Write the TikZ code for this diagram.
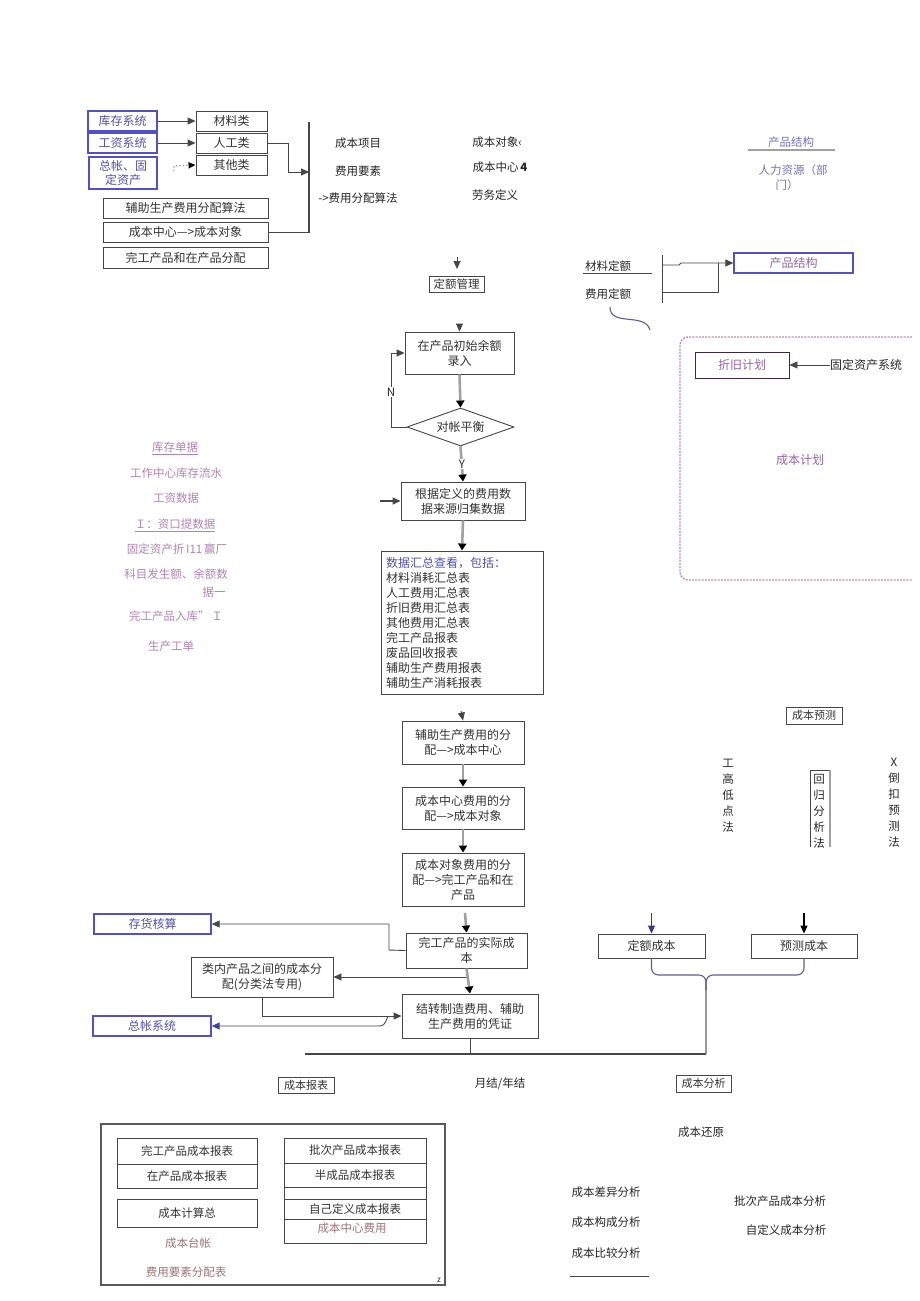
\documentclass[tikz,border=0pt]{standalone}
\usepackage{fontspec}
\setmainfont{Noto Sans CJK SC}
\usetikzlibrary{arrows.meta,shapes.geometric,calc}
\newcommand\fsz[2]{\fontsize{#1}{#2}\selectfont}
\definecolor{bluebd}{RGB}{80,80,200}
\definecolor{bluetx}{RGB}{80,80,170}
\definecolor{purptx}{RGB}{150,100,170}
\definecolor{pinktx}{RGB}{180,130,180}
\definecolor{browntx}{RGB}{160,115,115}
\definecolor{linegray}{RGB}{160,160,160}
\definecolor{boxgray}{RGB}{70,70,70}
\definecolor{tcol}{RGB}{100,90,150}
\definecolor{dashcol}{RGB}{190,140,170}
\tikzset{
  box/.style={draw=boxgray, line width=0.9, inner sep=1, align=center, font=\fsz{12}{15}, text=black!80},
  bbox/.style={box, draw=bluebd, line width=1.3, text=bluetx},
  lbl/.style={inner sep=0, font=\fsz{11.5}{14}, text=black!85},
  plbl/.style={lbl, text=pinktx},
  arr/.style={draw=boxgray, line width=0.9, -{Triangle[length=8,width=7]}},
  garr/.style={draw=linegray, line width=2.6, -{Triangle[length=7,width=8,color=black]}},
}
\begin{document}
\begin{tikzpicture}[x=1pt,y=-1pt]
\useasboundingbox (0,0) rectangle (920,1301);
\fill[white] (0,0) rectangle (920,1301);

% ---------- top-left block ----------
\node[bbox, minimum width=69, minimum height=20] (n1) at (122.5,121) {库存系统};
\node[bbox, minimum width=69, minimum height=20] (n2) at (122.5,143) {工资系统};
\node[bbox, minimum width=68, minimum height=32, font=\fsz{12}{14}] (n3) at (123,173) {总帐、固\\定资产};
\node[box, minimum width=71, minimum height=20] (m1) at (231.5,121) {材料类};
\node[box, minimum width=71, minimum height=20] (m2) at (231.5,143) {人工类};
\node[box, minimum width=71, minimum height=20] (m3) at (231.5,165) {其他类};
\node[box, minimum width=165, minimum height=20] (a1) at (185.5,208) {辅助生产费用分配算法};
\node[box, minimum width=165, minimum height=20] (a2) at (185.5,232) {成本中心—>成本对象};
\node[box, minimum width=165, minimum height=21] (a3) at (185.5,257.5) {完工产品和在产品分配};
\draw[arr] (n1.east) -- (m1.west);
\draw[arr] (n2.east) -- (m2.west);
\coordinate (c3) at (174,171);
\draw[draw=linegray, dotted, line width=1.4, -{Triangle[length=7,width=6,color=black]}] (c3) -- (174,166) -- (m3.west);
\coordinate (bt) at (309,122);
\coordinate (bb) at (309,233);
\coordinate (bm) at (309,172);
\draw[boxgray, line width=1.2] (bt) -- (bb);
\draw[arr] (m2.east) -- (288,143) |- (bm);
\draw[boxgray, line width=0.9] (a2.east) -- (309,232);

\node[lbl] (t1) at (358,143) {成本项目};
\node[lbl] (t2) at (358,171) {费用要素};
\node[lbl] (t3) at (358,198) {->费用分配算法};
\node[lbl] (t4) at (497,142) {成本对象‹};
\node[lbl] (t5) at (500,167) {成本中心\,\textbf{4}};
\node[lbl] (t6) at (495,195) {劳务定义};
\node[lbl, text=bluetx!80] (t7) at (791,142) {产品结构};
\draw[linegray, line width=1.2] (748,150) -- (835,150);
\node[lbl, text=bluetx!80] (t8) at (793,170) {人力资源（部};
\node[lbl, text=bluetx!80] (t9) at (787,185) {门）};

% ---------- 定额管理 ----------
\coordinate (dm1) at (457,257);
\coordinate (dm2) at (457,269);
\draw[arr] (dm1) -- (dm2);
\node[box, minimum width=55, minimum height=16, font=\fsz{11.5}{14}, line width=0.8] (dg) at (456.5,284) {定额管理};

\node[lbl] (q1) at (608,266) {材料定额};
\draw[boxgray, line width=0.9] (583,273) -- (652,273);
\node[lbl] (q2) at (608,294) {费用定额};
\coordinate (qt) at (662,255);
\coordinate (qb) at (662,303);
\draw[boxgray, line width=1] (qt) -- (qb);
\node[bbox, minimum width=119, minimum height=20, text=purptx] (pj) at (793.5,263) {产品结构};
\draw[arr] (662,265) -- (679,265) -- (681,263) -- (pj.west);
\draw[boxgray, line width=0.9] (662,292) -| (718,263);
\draw[tcol, line width=1.1] (610,307) .. controls (610,327) and (645,312) .. (650,330);

% ---------- cost plan ----------
\draw[dashcol, line width=1.3, dash pattern=on 2pt off 1.2pt, rounded corners=8] (912,337) -- (680,337) -- (680,580) -- (912,580);
\node[box, draw=black!60!purptx, minimum width=94, minimum height=26, text=purptx] (zj) at (742,365) {折旧计划};
\node[lbl, anchor=west, font=\fsz{12}{14}] (gd) at (830,365) {固定资产系统};
\draw[arr] (gd.west) -- (zj.east);
\node[lbl, text=purptx, font=\fsz{12}{14}] (jh) at (800,460) {成本计划};

% ---------- left text column ----------
\node[plbl] (l1) at (175,447) {库存单据~};
\draw[pinktx, line width=0.7] ($(l1.south west)+(0,2)$) -- ($(l1.south east)+(0,2)$);
\node[plbl] (l2) at (176,473) {工作中心库存流水};
\node[plbl] (l3) at (176,498) {工资数据};
\node[plbl] (l4) at (175,524) {Ｉ：资口提数据};
\draw[pinktx, line width=0.7] ($(l4.south west)+(0,2)$) -- ($(l4.south east)+(0,2)$);
\node[plbl] (l5) at (177,549) {固定资产折\,I11\,赢厂};
\node[plbl] (l6) at (176,574) {科目发生额、余额数};
\node[plbl] (l7) at (214,592) {据一};
\node[plbl] (l8) at (176,616) {完工产品入库”\,Ｉ};
\node[plbl] (l9) at (171,646) {生产工单};

% ---------- flowchart ----------
\node[box, minimum width=109, minimum height=42] (f1) at (459.5,353) {在产品初始余额\\录入};
\coordinate (f0) at (459.5,325);
\draw[arr] (f0) -- (f1.north);
\node[diamond, draw=boxgray, line width=0.9, minimum width=107, minimum height=38, inner sep=0, aspect=2.8, font=\fsz{12}{14}, text=black!80] (d1) at (460.5,427) {对帐平衡};
\draw[garr] (f1.south) -- (d1.north);
\draw[arr] (d1.west) -- (391,427) |- (f1.west);
\node[lbl, fill=white, inner sep=1] at (391,392) {N};
\node[box, minimum width=124, minimum height=38] (f2) at (463,501) {根据定义的费用数\\据来源归集数据};
\draw[garr] (d1.south) -- (f2.north);
\node[lbl, fill=white, inner sep=1] at (462,464) {Y};
\coordinate (fin) at (380,501);
\draw[arr, line width=1.4] (fin) -- (f2.west);
\node[box, minimum width=162, minimum height=143, text width=152, align=left, inner sep=4, font=\fsz{12}{15}] (f3) at (462,622.5) {\textcolor{bluetx}{数据汇总查看，包括：}\\材料消耗汇总表\\人工费用汇总表\\折旧费用汇总表\\其他费用汇总表\\完工产品报表\\废品回收报表\\辅助生产费用报表\\辅助生产消耗报表};
\draw[garr] (f2.south) -- (f3.north);
\node[box, minimum width=122, minimum height=43] (f4) at (463,742.5) {辅助生产费用的分\\配—>成本中心};
\coordinate (f34) at (461,711);
\draw[arr] (f34) -- (f4.north);
\node[box, minimum width=122, minimum height=42] (f5) at (463,808) {成本中心费用的分\\配—>成本对象};
\draw[garr] (f4.south) -- (f5.north);
\node[box, minimum width=122, minimum height=53] (f6) at (463,879.5) {成本对象费用的分\\配—>完工产品和在\\产品};
\draw[garr] (f5.south) -- (f6.north);
\node[box, minimum width=121, minimum height=35] (f7) at (466.5,950.5) {完工产品的实际成\\本};
\coordinate (f67) at (465,913);
\draw[garr] (f67) -- (f7.north);
\node[bbox, minimum width=117, minimum height=20] (s1) at (152.5,924) {存货核算};
\draw[arr] (f7.west) -- (389,950) |- (s1.east);
\node[box, minimum width=142, minimum height=40] (f8) at (262,977) {类内产品之间的成本分\\配(分类法专用)};
\coordinate (j1) at (467,977);
\draw[arr] (j1) -- (f8.east);
\node[box, minimum width=136, minimum height=44] (f9) at (470,1016) {结转制造费用、辅助\\生产费用的凭证};
\draw[garr] (f7.south) -- (f9.north);
\draw[arr] (f8.south) |- (f9.west);
\node[bbox, minimum width=118, minimum height=20] (s2) at (152,1026) {总帐系统};
\coordinate (k1) at (388,1016);
\draw[draw=boxgray, line width=0.9, -{Triangle[length=8,width=7,color=bluebd!80!black]}] (k1) .. controls (384,1026) .. (376,1026) -- (s2.east);
\coordinate (hl) at (305,1054);
\coordinate (hr) at (706,1054);
\draw[boxgray, line width=1.2] (hl) -- (hr);
\draw[boxgray, line width=1] (f9.south) -- (470,1054);

% ---------- forecast ----------
\node[box, minimum width=56, minimum height=17, font=\fsz{11}{13}] (p0) at (814,715.5) {成本预测};
\node[lbl, align=center, font=\fsz{11.5}{16}] (v1) at (728,795.5) {工\\高\\低\\点\\法};
\node[lbl, align=center, font=\fsz{11.5}{16}] (v2) at (819,811) {回\\归\\分\\析\\法};
\draw[boxgray, line width=0.9] (810,847) -- (810,770) -- (830,770);
\draw[linegray, line width=1.8] (830,770) -- (830,847);
\node[lbl, align=center, font=\fsz{11.5}{16}] (v3) at (894,803) {\textit{X}\\倒\\扣\\预\\测\\法};

\node[box, minimum width=107, minimum height=24] (e1) at (651.5,946) {定额成本};
\node[box, minimum width=106, minimum height=24] (e2) at (804,946) {预测成本};
\coordinate (e1t) at (651.5,913);
\coordinate (e2t) at (804,913);
\draw[draw=bluebd!70!black, line width=1, -{Triangle[length=8,width=7]}] (e1t) -- (e1.north);
\draw[arr, line width=1.3, draw=black] (e2t) -- (e2.north);
\draw[tcol, line width=1.1, rounded corners=7] (e1.south) -- (651.5,975) -- (706,975) -- (hr);
\draw[tcol, line width=1.1, rounded corners=7] (e2.south) -- (804,975) -- (706,975) -- (706,990);

% ---------- bottom ----------
\node[box, minimum width=56, minimum height=16, font=\fsz{11}{13}] (r1) at (306,1085) {成本报表};
\node[lbl] (yj) at (500,1084) {月结/年结};
\node[box, minimum width=55, minimum height=17, font=\fsz{11}{13}] (r2) at (703.5,1083.5) {成本分析};
\node[lbl] (hy) at (701,1132) {成本还原};

\node[draw=black!65, line width=1.1, minimum width=344, minimum height=161, inner sep=0] (big) at (273,1204.5) {};
\node[lbl, font=\fsz{8}{9}] (zz) at (439,1280) {z};
\node[box, minimum width=140, minimum height=26, font=\fsz{11.5}{14}] (b1) at (187,1151) {完工产品成本报表};
\node[box, minimum width=140, minimum height=24, font=\fsz{11.5}{14}] (b2) at (187,1176) {在产品成本报表};
\node[box, minimum width=140, minimum height=28, font=\fsz{11.5}{14}] (b3) at (187,1213) {成本计算总};
\node[lbl, text=browntx] (b4) at (188,1243) {成本台帐};
\node[lbl, text=browntx] (b5) at (186,1272) {费用要素分配表};
\node[box, minimum width=142, minimum height=25, font=\fsz{11.5}{14}] (c1) at (355,1150.5) {批次产品成本报表};
\node[box, minimum width=142, minimum height=24, font=\fsz{11.5}{14}] (c2) at (355,1175) {半成品成本报表};
\node[box, minimum width=142, minimum height=12] (c3b) at (355,1193) {};
\node[box, minimum width=142, minimum height=20, font=\fsz{11.5}{14}] (c4) at (355,1209) {自己定义成本报表};
\node[box, minimum width=142, minimum height=24, font=\fsz{11.5}{14}] (c5) at (355,1231) {};
\node[lbl, text=browntx] (c5t) at (352,1228) {成本中心费用};

\node[lbl] (g1) at (606,1192) {成本差异分析};
\node[lbl] (g2) at (606,1222) {成本构成分析};
\node[lbl] (g3) at (606,1253) {成本比较分析};
\draw[boxgray, line width=1] (570,1276) -- (649,1276);
\node[lbl] (g4) at (780,1201) {批次产品成本分析};
\node[lbl] (g5) at (786,1230) {自定义成本分析};
\end{tikzpicture}
\end{document}
